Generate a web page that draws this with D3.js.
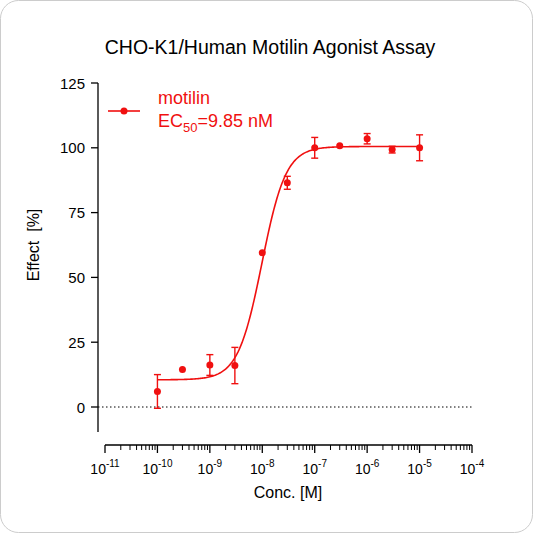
<!DOCTYPE html>
<html><head><meta charset="utf-8">
<script src="https://cdn.jsdelivr.net/npm/d3@7"></script>
<style>body{margin:0;background:#fff}svg{font-family:Arial,"Liberation Sans",sans-serif}</style>
</head><body><svg id="c" width="533" height="533"></svg>
<script>
// data
const conc = [1e-10, 3e-10, 1e-9, 3e-9, 1e-8, 3e-8, 1e-7, 3e-7, 1e-6, 3e-6, 1e-5];
const effect = [6, 14.5, 16.2, 16, 59.5, 86.5, 100, 100.8, 103.5, 99.3, 100];
const errLo = [6.5, 0, 4, 7, 0, 2.5, 4, 0, 2, 1.3, 5];
const errHi = [6.5, 0, 4, 7, 0, 2.5, 4, 0, 2, 1.3, 5];
const yTicks = [0, 25, 50, 75, 100, 125];
const xExps = [-11, -10, -9, -8, -7, -6, -5, -4];
// fitted 4PL parameters
const fit = {bottom: 10.5, top: 100.5, ec50: 9.85e-9, hill: 1.9};

const red = "#f01010";
const svg = d3.select("#c");
svg.append("rect").attr("x", 0.5).attr("y", 0.5).attr("width", 532).attr("height", 532)
  .attr("rx", 18).attr("fill", "#fff").attr("stroke", "#ccc");

const x = d3.scaleLog().domain([1e-11, 1e-4]).range([105, 472]);
const y = d3.scaleLinear().domain([0, 125]).range([407, 83]);

svg.append("text").attr("x", 270).attr("y", 54).attr("text-anchor", "middle")
  .attr("font-size", 19.5).text("CHO-K1/Human Motilin Agonist Assay");

// y axis
const ya = svg.append("g");
ya.append("line").attr("x1", 98).attr("x2", 98).attr("y1", y(125)).attr("y2", 432).attr("stroke", "#000").attr("stroke-width", 1.3);
yTicks.forEach(t => {
  ya.append("line").attr("x1", 91).attr("x2", 98).attr("y1", y(t)).attr("y2", y(t)).attr("stroke", "#000").attr("stroke-width", 1.3);
  ya.append("text").attr("x", 85).attr("y", y(t) + 5.5).attr("text-anchor", "end").attr("font-size", 15).text(t);
});
svg.append("text").attr("transform", "translate(39,245) rotate(-90)").attr("text-anchor", "middle")
  .attr("font-size", 16).attr("xml:space", "preserve").text("Effect  [%]");

// x axis
const xa = svg.append("g");
const yAx = 445;
xa.append("line").attr("x1", 105).attr("x2", 472).attr("y1", yAx).attr("y2", yAx).attr("stroke", "#000").attr("stroke-width", 1.3);
xExps.forEach((e, i) => {
  const v = Math.pow(10, e);
  xa.append("line").attr("x1", x(v)).attr("x2", x(v)).attr("y1", yAx).attr("y2", yAx + 8).attr("stroke", "#000").attr("stroke-width", 1.3);
  const t = xa.append("text").attr("x", x(v)).attr("y", yAx + 29).attr("text-anchor", "middle").attr("font-size", 14);
  t.append("tspan").text("10");
  t.append("tspan").attr("dy", -7).attr("font-size", 10).text(e < 0 ? "-" + (-e) : e);
  if (i < xExps.length - 1) {
    for (let k = 2; k < 10; k++) {
      const m = k * v;
      xa.append("line").attr("x1", x(m)).attr("x2", x(m)).attr("y1", yAx).attr("y2", yAx + 5).attr("stroke", "#000").attr("stroke-width", 1);
    }
  }
});
svg.append("text").attr("x", 288).attr("y", 498).attr("text-anchor", "middle").attr("font-size", 16).text("Conc. [M]");

// zero reference line
svg.append("line").attr("x1", 98).attr("x2", 472).attr("y1", y(0)).attr("y2", y(0))
  .attr("stroke", "#000").attr("stroke-dasharray", "1.5,2.5").attr("stroke-width", 1);

// fitted curve
const curveX = d3.range(-10, -4.999, 0.02).map(e => Math.pow(10, e));
const f = c => fit.bottom + (fit.top - fit.bottom) / (1 + Math.pow(fit.ec50 / c, fit.hill));
svg.append("path").datum(curveX)
  .attr("d", d3.line().x(d => x(d)).y(d => y(f(d))))
  .attr("fill", "none").attr("stroke", red).attr("stroke-width", 1.6);

// error bars and points
const g = svg.append("g").attr("stroke", red).attr("stroke-width", 1.4);
conc.forEach((c, i) => {
  if (errHi[i] > 0 || errLo[i] > 0) {
    const y1 = y(effect[i] + errHi[i]), y2 = y(effect[i] - errLo[i]);
    g.append("line").attr("x1", x(c)).attr("x2", x(c)).attr("y1", y1).attr("y2", y2);
    g.append("line").attr("x1", x(c) - 3.5).attr("x2", x(c) + 3.5).attr("y1", y1).attr("y2", y1);
    g.append("line").attr("x1", x(c) - 3.5).attr("x2", x(c) + 3.5).attr("y1", y2).attr("y2", y2);
  }
});
svg.append("g").selectAll("circle").data(conc).join("circle")
  .attr("cx", d => x(d)).attr("cy", (d, i) => y(effect[i])).attr("r", 3.5).attr("fill", red);

// legend
svg.append("line").attr("x1", 108).attr("x2", 140).attr("y1", 111).attr("y2", 111).attr("stroke", red).attr("stroke-width", 1.6);
svg.append("circle").attr("cx", 124).attr("cy", 111).attr("r", 3.5).attr("fill", red);
svg.append("text").attr("x", 158).attr("y", 104).attr("font-size", 18).attr("fill", red).text("motilin");
const lt = svg.append("text").attr("x", 158).attr("y", 127).attr("font-size", 18).attr("fill", red);
lt.append("tspan").text("EC");
lt.append("tspan").attr("dy", 5).attr("font-size", 13).text("50");
lt.append("tspan").attr("dy", -5).text("=9.85 nM");
</script></body></html>
